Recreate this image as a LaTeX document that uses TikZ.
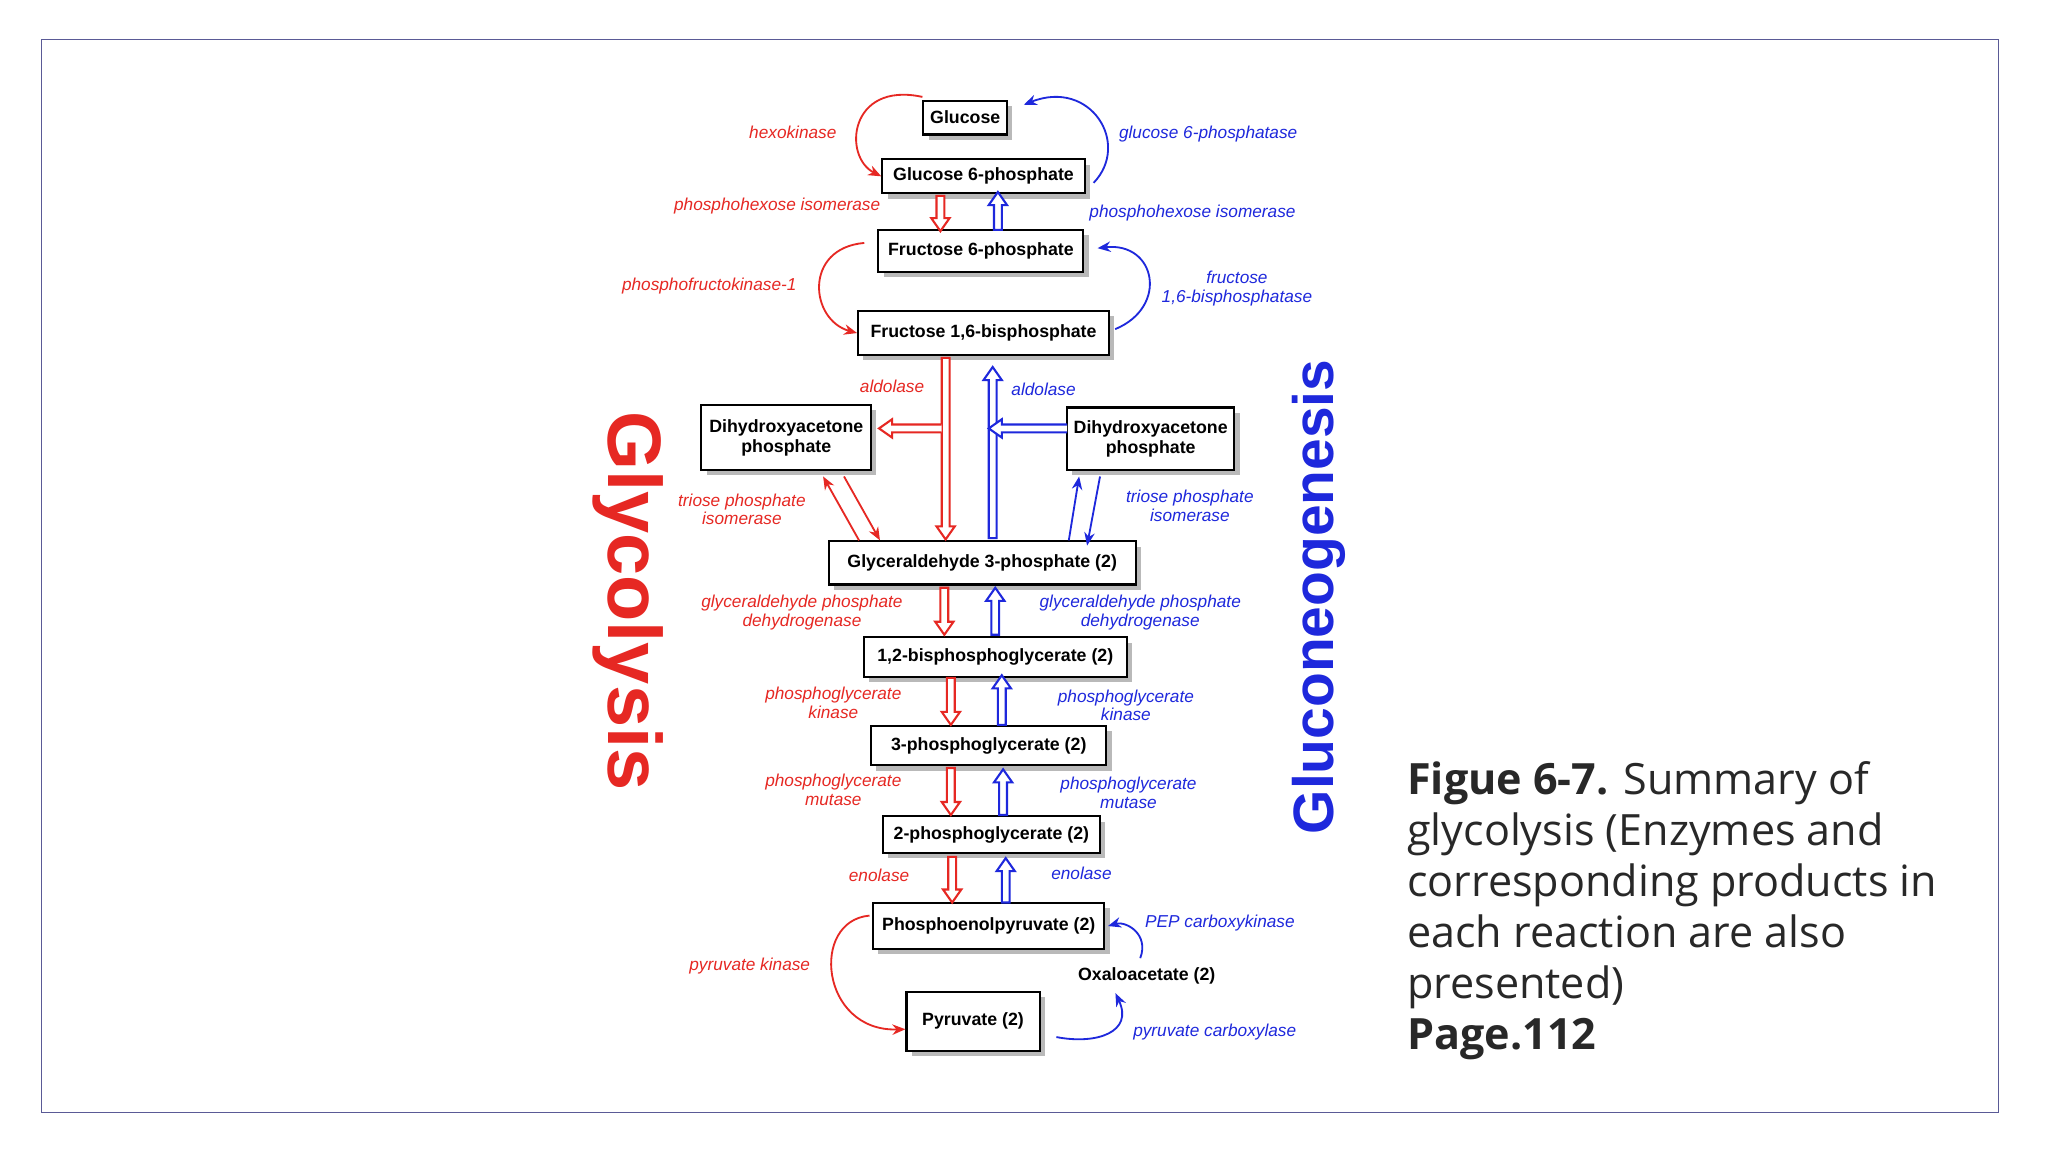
\documentclass[tikz,border=0pt]{standalone}
\usepackage{fontspec}
\setmainfont{Liberation Sans}
\newfontfamily\capfont{Open Sans}
\usetikzlibrary{shadows,arrows.meta}
\definecolor{gred}{RGB}{230,40,35}
\definecolor{gblue}{RGB}{30,40,220}
\newcommand\vharrow[4]{%
 \pgfmathsetmacro\s{sign(#4-#3)}
 \draw[#1, line width=0.8pt, fill=white] (#2-3,#3) -- (#2-3,#4-\s*10) -- (#2-7,#4-\s*10) -- (#2,#4) -- (#2+7,#4-\s*10) -- (#2+3,#4-\s*10) -- (#2+3,#3) -- cycle;}
\newcommand\hharrow[4]{%
 \pgfmathsetmacro\s{sign(#4-#3)}
 \draw[#1, line width=0.8pt, fill=white] (#3,#2-3) -- (#4-\s*10,#2-3) -- (#4-\s*10,#2-7) -- (#4,#2) -- (#4-\s*10,#2+7) -- (#4-\s*10,#2+3) -- (#3,#2+3);}
\begin{document}
\begin{tikzpicture}[x=0.5pt,y=-0.5pt,
 box/.style={draw=black, line width=0.8pt, fill=white, font=\fontsize{6.8}{7.6}\selectfont\bfseries, align=center, inner sep=1pt,
   drop shadow={shadow xshift=2pt, shadow yshift=-2pt, fill=gray!55, opacity=1}},
 rl/.style={text=gred, font=\fontsize{6.6}{7.2}\selectfont\itshape, align=center},
 bl/.style={text=gblue, font=\fontsize{6.6}{7.2}\selectfont\itshape, align=center},
 rc/.style={gred, line width=0.7pt, -{Stealth[length=5pt,width=4pt]}},
 bc/.style={gblue, line width=0.7pt, -{Stealth[length=5pt,width=4pt]}}]
\useasboundingbox (0,0) rectangle (1568,882);
\fill[white] (0,0) rectangle (1568,882);
\draw[color={rgb,255:red,90;green,90;blue,150}, line width=0.5pt] (32,30) rectangle (1530,852);

\node[box, minimum width=32pt, minimum height=13pt] (glc) at (739,90) {Glucose};
\node[box, minimum width=77.5pt, minimum height=13pt] (g6p) at (753,135) {Glucose 6-phosphate};
\node[box, minimum width=78.5pt, minimum height=16pt] (f6p) at (751,192) {Fructose 6-phosphate};
\node[box, minimum width=96pt, minimum height=17pt] (fbp) at (753,255) {Fructose 1,6-bisphosphate};
\node[box, minimum width=65pt, minimum height=25pt] (dl) at (602,335) {Dihydroxyacetone\\phosphate};
\node[box, minimum width=64pt, minimum height=24pt] (dr) at (881,336) {Dihydroxyacetone\\phosphate};
\node[box, minimum width=117.5pt, minimum height=16.5pt] (gap) at (752,431) {Glyceraldehyde 3-phosphate (2)};
\node[box, minimum width=100.5pt, minimum height=15pt] (bpg) at (762,503) {1,2-bisphosphoglycerate (2)};
\node[box, minimum width=90pt, minimum height=15pt] (pg3) at (757,571) {3-phosphoglycerate (2)};
\node[box, minimum width=83pt, minimum height=14pt] (pg2) at (759,639) {2-phosphoglycerate (2)};
\node[box, minimum width=88.5pt, minimum height=17.5pt] (pep) at (757,709) {Phosphoenolpyruvate (2)};
\node[font=\fontsize{6.8}{7.6}\selectfont\bfseries] (oaa) at (878,747) {Oxaloacetate (2)};
\node[box, minimum width=51pt, minimum height=22.5pt] (pyr) at (745,782) {Pyruvate (2)};

% hollow arrows
\vharrow{gred}{720}{150}{177}
\vharrow{gblue}{764}{176}{147}
\vharrow{gred}{724}{274}{413}
\vharrow{gblue}{760}{412}{281}
\hharrow{gred}{328}{721}{673}
\hharrow{gblue}{328}{817}{757}
\vharrow{gred}{723}{450}{486}
\vharrow{gblue}{762}{486}{450}
\vharrow{gred}{728}{519}{555}
\vharrow{gblue}{767}{555}{517}
\vharrow{gred}{728}{588}{624}
\vharrow{gblue}{768}{624}{589}
\vharrow{gred}{729}{656}{691}
\vharrow{gblue}{770}{691}{657}

% curved connectors
\draw[rc] (glc.north west) ++(0,-2) .. controls (650,62) and (645,120) .. (g6p.west);
\draw[bc] (g6p.east) ++(6,5) .. controls (866,110) and (835,60) .. ([xshift=6pt,yshift=-2pt]glc.north east);
\draw[rc] (f6p.west) ++(-10,-6) .. controls (615,190) and (620,245) .. (fbp.west);
\draw[bc] (fbp.east) ++(4,-3) .. controls (895,235) and (885,185) .. ([xshift=5pt,yshift=1pt]f6p.east);
\draw[rc] ([xshift=12pt]gap.north west) -- ([xshift=47pt,yshift=-2pt]dl.south west);
\draw[rc] ([xshift=55pt,yshift=-2pt]dl.south west) -- ([xshift=20pt]gap.north west);
\draw[bc] ([xshift=-26pt]gap.north east) -- ([xshift=5pt,yshift=-2pt]dr.south west);
\draw[bc] ([xshift=13pt,yshift=-2pt]dr.south west) -- ([xshift=-19pt,yshift=-2pt]gap.north east);
\draw[rc] (pep.west) ++(-2,-8) .. controls (620,705) and (628,790) .. ([yshift=-3pt]pyr.west);
\draw[bc] (oaa.north) ++(-5,0) .. controls (880,715) and (862,705) .. ([xshift=1pt]pep.east);
\draw[bc] ([xshift=6pt,yshift=-6pt]pyr.east) .. controls (840,800) and (868,790) .. ([xshift=-12pt]oaa.south);

% labels
\node[rl] (l1) at (607,101) {hexokinase};
\node[rl] (l2) at (595,158) {phosphohexose isomerase};
\node[rl] (l3) at (543,219) {phosphofructokinase-1};
\node[rl] (l4) at (683,296) {aldolase};
\node[rl] (l5) at (568,390) {triose phosphate\\isomerase};
\node[rl] (l6) at (614,469) {glyceraldehyde phosphate\\dehydrogenase};
\node[rl] (l7) at (638,538) {phosphoglycerate\\kinase};
\node[rl] (l8) at (638,605) {phosphoglycerate\\mutase};
\node[rl] (l9) at (673,670) {enolase};
\node[rl] (l10) at (574,740) {pyruvate kinase};
\node[bl] (b1) at (925,103) {glucose 6-phosphatase};
\node[bl] (b2) at (913,163) {phosphohexose isomerase};
\node[bl] (b3) at (947,221) {fructose\\1,6-bisphosphatase};
\node[bl] (b4) at (799,298) {aldolase};
\node[bl] (b5) at (911,387) {triose phosphate\\isomerase};
\node[bl] (b6) at (873,469) {glyceraldehyde phosphate\\dehydrogenase};
\node[bl] (b7) at (862,540) {phosphoglycerate\\kinase};
\node[bl] (b8) at (864,607) {phosphoglycerate\\mutase};
\node[bl] (b9) at (828,669) {enolase};
\node[bl] (b10) at (934,707) {PEP carboxykinase};
\node[bl] (b11) at (930,790) {pyruvate carboxylase};

\node[rotate=-90, text=gred, font=\fontsize{29}{30}\selectfont\bfseries] (gly) at (481,460) {Glycolysis};
\node[rotate=90, text=gblue, font=\fontsize{21.8}{23}\selectfont\bfseries] (glu) at (1010,457) {Gluconeogenesis};

\node[anchor=north west, align=left, text={rgb,255:red,40;green,40;blue,40}, font=\capfont\fontsize{16.5}{19.5}\selectfont, inner sep=0pt] (cap) at (1077,583)
{\textbf{Figue 6-7.} Summary of\\glycolysis (Enzymes and\\corresponding products in\\each reaction are also\\presented)\\\textbf{Page.112}};
\end{tikzpicture}
\end{document}
